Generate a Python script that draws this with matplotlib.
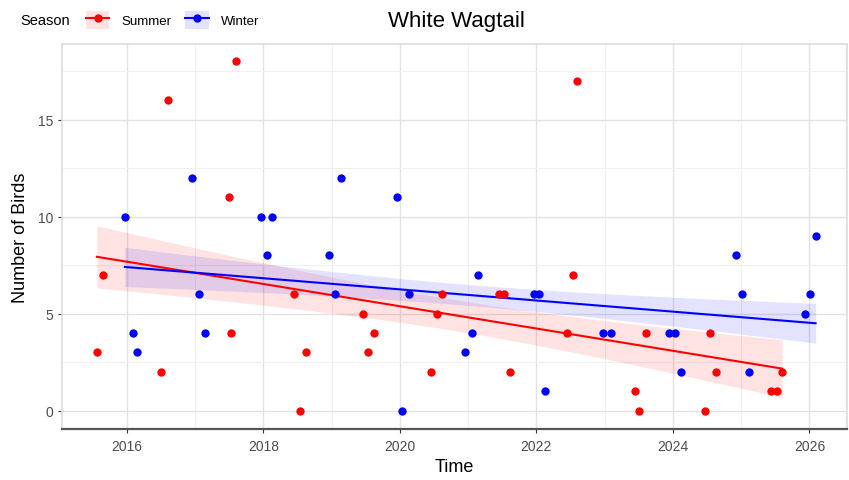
import numpy as np
import matplotlib.pyplot as plt
from matplotlib.lines import Line2D
from matplotlib.patches import Patch

plt.rcParams['font.family'] = ['Liberation Sans', 'DejaVu Sans']

summer_t = [2015.56, 2015.65, 2016.50, 2016.61, 2017.49, 2017.52, 2017.60,
            2018.45, 2018.53, 2018.63, 2019.46, 2019.53, 2019.62,
            2020.45, 2020.54, 2020.61, 2021.45, 2021.53, 2021.62,
            2022.45, 2022.54, 2022.60, 2023.45, 2023.50, 2023.60,
            2024.47, 2024.54, 2024.63, 2025.43, 2025.53, 2025.60]
summer_n = [3, 7, 2, 16, 11, 4, 18,
            6, 0, 3, 5, 3, 4,
            2, 5, 6, 6, 6, 2,
            4, 7, 17, 1, 0, 4,
            0, 4, 2, 1, 1, 2]

winter_t = [2015.97, 2016.09, 2016.15, 2016.96, 2017.05, 2017.14,
            2017.96, 2018.06, 2018.12, 2018.96, 2019.05, 2019.14,
            2019.96, 2020.03, 2020.13, 2020.95, 2021.05, 2021.15,
            2021.96, 2022.04, 2022.12, 2022.98, 2023.09,
            2023.94, 2024.03, 2024.12, 2024.92, 2025.01, 2025.11,
            2025.94, 2026.01, 2026.09]
winter_n = [10, 4, 3, 12, 6, 4,
            10, 8, 10, 8, 6, 12,
            11, 0, 6, 3, 4, 7,
            6, 6, 1, 4, 4,
            4, 4, 2, 8, 6, 2,
            5, 6, 9]

years = [2016, 2018, 2020, 2022, 2024, 2026]


def lm_band(t, n, tval=1.0):
    # linear fit with a +/- tval standard-error band
    t = np.asarray(t)
    n = np.asarray(n, dtype=float)
    b, a = np.polyfit(t, n, 1)
    resid = n - (a + b * t)
    s = np.sqrt(np.sum(resid ** 2) / (len(t) - 2))
    xs = np.linspace(t.min(), t.max(), 100)
    se = s * np.sqrt(1 / len(t) + (xs - t.mean()) ** 2 / np.sum((t - t.mean()) ** 2))
    fit = a + b * xs
    return xs, fit, fit - tval * se, fit + tval * se


fig = plt.figure(figsize=(8.49, 4.81), dpi=100)
ax = fig.add_axes([62 / 849, 51 / 481, 785 / 849, 385 / 481])

for t, n, col in [(summer_t, summer_n, 'red'), (winter_t, winter_n, 'blue')]:
    xs, fit, lo, hi = lm_band(t, n)
    ax.fill_between(xs, lo, hi, color=col, alpha=0.11, linewidth=0, zorder=2)
    ax.plot(xs, fit, color=col, lw=1.5, zorder=3)
    ax.scatter(t, n, color=col, s=36, linewidths=0, zorder=4)

ax.set_xlim(2015.05, 2026.55)
ax.set_ylim(-0.95, 18.9)
ax.set_xticks(years)
ax.set_xticks([2017, 2019, 2021, 2023, 2025], minor=True)
ax.set_yticks([0, 5, 10, 15])
ax.set_yticks([2.5, 7.5, 12.5, 17.5], minor=True)
ax.grid(True, which='major', color='#e3e3e3', lw=1.0, zorder=0)
ax.grid(True, which='minor', color='#f0f0f0', lw=0.8, zorder=0)
ax.set_axisbelow(True)

for side in ['top', 'left', 'right']:
    ax.spines[side].set_color('#dddddd')
    ax.spines[side].set_linewidth(1.2)
ax.spines['bottom'].set_color('#555555')
ax.spines['bottom'].set_linewidth(1.6)

ax.tick_params(axis='both', which='major', labelsize=10, colors='#333333',
               length=3, width=0.8, labelcolor='#4d4d4d')
ax.tick_params(axis='x', which='major', pad=4)
ax.tick_params(axis='both', which='minor', length=0)

ax.set_xlabel('Time', fontsize=13, labelpad=4)
ax.set_ylabel('Number of Birds', fontsize=13, labelpad=6)

fig.text(456 / 849, 0.956, 'White Wagtail', ha='center', va='center', fontsize=16)

fig.text(20 / 849, 0.956, 'Season', ha='left', va='center', fontsize=10.5)
handles = [
    (Patch(facecolor='red', alpha=0.11, edgecolor='none'),
     Line2D([], [], color='red', lw=1.5, marker='o', markersize=5)),
    (Patch(facecolor='blue', alpha=0.11, edgecolor='none'),
     Line2D([], [], color='blue', lw=1.5, marker='o', markersize=5)),
]
fig.legend(handles, ['Summer', 'Winter'], loc='center left',
           bbox_to_anchor=(86 / 849, 0.956), ncol=2, frameon=False,
           fontsize=9.5, handlelength=1.75, handleheight=1.75,
           handletextpad=0.9, columnspacing=1.1, borderpad=0, borderaxespad=0)

fig.savefig('out.png', dpi=100)
